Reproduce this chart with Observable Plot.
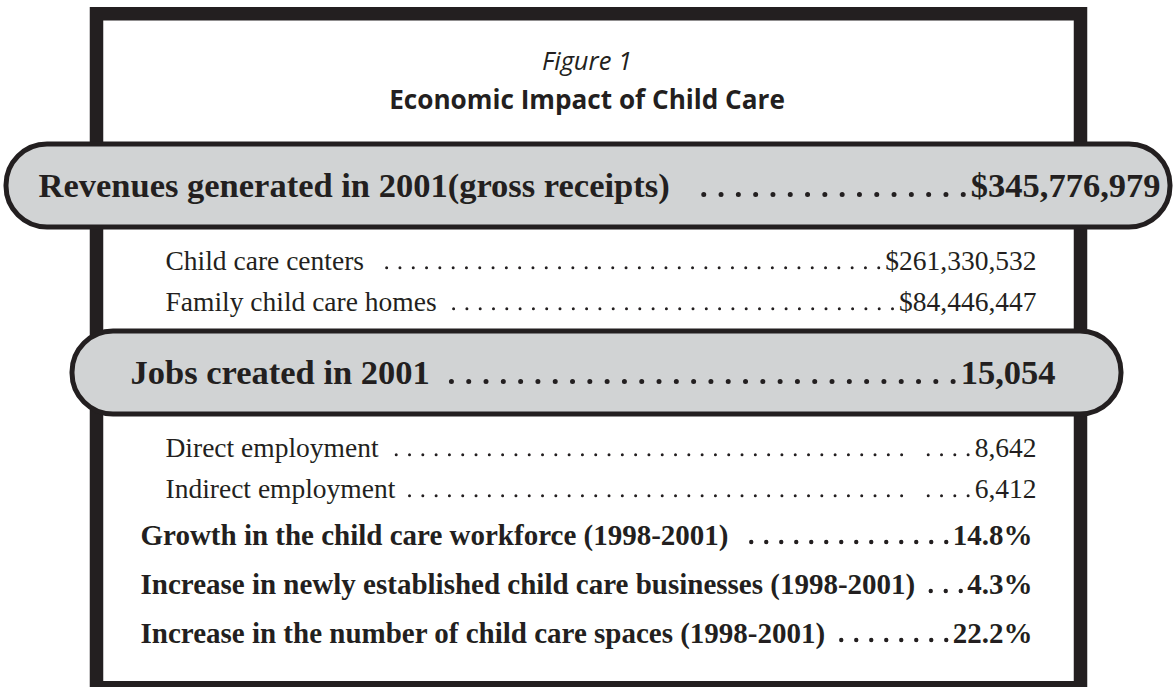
<!DOCTYPE html>
<html>
<head>
<meta charset="utf-8">
<script src="https://cdn.jsdelivr.net/npm/d3@7"></script>
<script src="https://cdn.jsdelivr.net/npm/@observablehq/plot@0.6"></script>
<style>
  html, body { margin: 0; padding: 0; background: #ffffff; }
  #chart svg { display: block; }
</style>
</head>
<body>
<div id="chart"></div>
<script>
// ---------- data ----------
const figureLabel = "Figure 1";
const figureTitle = "Economic Impact of Child Care";
const rowLabels = [
  "Revenues generated in 2001(gross receipts)",
  "Child care centers",
  "Family child care homes",
  "Jobs created in 2001",
  "Direct employment",
  "Indirect employment",
  "Growth in the child care workforce (1998-2001)",
  "Increase in newly established child care businesses (1998-2001)",
  "Increase in the number of child care spaces (1998-2001)"
];
const rowValues = ["$345,776,979", "$261,330,532", "$84,446,447", "15,054", "8,642", "6,412", "14.8%", "4.3%", "22.2%"];
const rowKinds = ["headline", "detail", "detail", "headline", "detail", "detail", "stat", "stat", "stat"];
// leader quirk: number of dots set apart next to the value (after a one-dot gap)
const leaderTailDots = [0, 0, 0, 0, 4, 4, 0, 0, 0];

// ---------- style / layout ----------
const serif = '"Liberation Serif", "Times New Roman", serif';
const sans = '"Open Sans", "Noto Sans", sans-serif';
const ink = "#231f20";
const W = 1173, H = 687;

const kindStyle = {
  headline: {size: 34.5, weight: "bold",   dot: 17.3, dotW: 5.0, gapL: 22, gapR: 7},
  detail:   {size: 27.5, weight: "normal", dot: 13.3, dotW: 3.0, gapL: 11, gapR: 6},
  stat:     {size: 29,   weight: "bold",   dot: 15,   dotW: 4.4, gapL: 14, gapR: 6}
};
const layout = {
  top: 144,
  pillHeight: 83,
  pillRadius: 41,
  pillStroke: 5,
  headlineBoxes: [
    {x1: 6, x2: 1170, tx1: 38, tx2: 1160},
    {x1: 72, x2: 1121, tx1: 130, tx2: 1055}
  ],
  gap: {
    "headline>detail": 42, "detail>detail": 41, "detail>headline": 21,
    "detail>stat": 47, "stat>stat": 49
  },
  indent: {detail: 165, stat: 140},
  right: {detail: 1036, stat: 1032},
  frame: {x1: 96.5, x2: 1080.5, y1: 13.75, y2: 687.75, w: 13.5},
  titleX: 586.5,
  figure: {baseline: 69, width: 90},
  title: {baseline: 108, width: 396}
};

const ctx = document.createElement("canvas").getContext("2d");
function measure(s, font) { ctx.font = font; return ctx.measureText(s).width; }
function textWidth(s, st) { return measure(s, `${st.weight} ${st.size}px ${serif}`); }
function fitSize(s, style, weight, target) {
  const w = measure(s, `${style} ${weight} 20px ${sans}`);
  return 20 * target / w;
}
const figureSize = fitSize(figureLabel, "italic", "normal", layout.figure.width);
const titleSize = fitSize(figureTitle, "normal", "bold", layout.title.width);

const rows = rowLabels.map((label, i) => ({label, value: rowValues[i], tail: leaderTailDots[i], kind: rowKinds[i]}));
let cursor = layout.top, prev = null, hi = 0;
const leaders = [];
for (const r of rows) {
  const st = kindStyle[r.kind];
  if (r.kind === "headline") {
    const box = layout.headlineBoxes[hi++];
    if (prev) cursor += layout.gap[prev + ">headline"];
    r.top = cursor; r.bottom = cursor + layout.pillHeight; cursor = r.bottom;
    r.baseline = (r.top + r.bottom) / 2 + 0.33 * st.size;
    r.px1 = box.x1; r.px2 = box.x2; r.labelX = box.tx1; r.valueX = box.tx2;
  } else {
    cursor += layout.gap[prev + ">" + r.kind];
    r.baseline = cursor;
    r.labelX = layout.indent[r.kind]; r.valueX = layout.right[r.kind];
  }
  const labelEnd = r.labelX + textWidth(r.label, st);
  const valueStart = r.valueX - textWidth(r.value, st);
  const y = r.baseline - st.dotW / 2 - 0.3;
  let from = valueStart - st.gapR;
  if (r.tail > 0) {
    leaders.push({kind: r.kind, x1: from, x2: from - (r.tail - 1) * st.dot - 0.5, y});
    from -= (r.tail + 1) * st.dot;
  }
  const to = labelEnd + st.gapL;
  if (from > to) leaders.push({kind: r.kind, x1: from, x2: to, y});
  prev = r.kind;
}

const kinds = ["headline", "detail", "stat"];
const textMarks = kinds.flatMap(k => {
  const st = kindStyle[k];
  const data = rows.filter(r => r.kind === k);
  return [
    Plot.ruleY(leaders.filter(d => d.kind === k), {x1: "x1", x2: "x2", y: "y", stroke: ink, strokeWidth: st.dotW,
      strokeLinecap: "round", strokeDasharray: `0 ${st.dot}`}),
    Plot.text(data, {x: "labelX", y: "baseline", text: "label", textAnchor: "start", lineAnchor: "bottom",
      fontFamily: serif, fontSize: st.size, fontWeight: st.weight, fill: ink}),
    Plot.text(data, {x: "valueX", y: "baseline", text: "value", textAnchor: "end", lineAnchor: "bottom",
      fontFamily: serif, fontSize: st.size, fontWeight: st.weight, fill: ink})
  ];
});

const fr = layout.frame;
const chart = Plot.plot({
  width: W, height: H, margin: 0,
  x: {domain: [0, W], range: [0, W], axis: null},
  y: {domain: [0, H], range: [0, H], axis: null},
  style: {background: "#ffffff", overflow: "hidden"},
  marks: [
    Plot.rect([fr], {x1: "x1", x2: "x2", y1: "y1", y2: "y2", fill: "#ffffff", stroke: ink, strokeWidth: fr.w}),
    Plot.text([figureLabel], {x: layout.titleX, y: layout.figure.baseline, text: d => d, lineAnchor: "bottom",
      fontFamily: sans, fontStyle: "italic", fontSize: figureSize, fill: ink}),
    Plot.text([figureTitle], {x: layout.titleX, y: layout.title.baseline, text: d => d, lineAnchor: "bottom",
      fontFamily: sans, fontWeight: "bold", fontSize: titleSize, fill: ink}),
    Plot.rect(rows.filter(r => r.kind === "headline"), {x1: "px1", x2: "px2", y1: "top", y2: "bottom",
      fill: "#d1d3d4", stroke: ink, strokeWidth: layout.pillStroke, rx: layout.pillRadius, ry: layout.pillRadius}),
    ...textMarks
  ]
});
document.getElementById("chart").append(chart);
</script>
</body>
</html>
